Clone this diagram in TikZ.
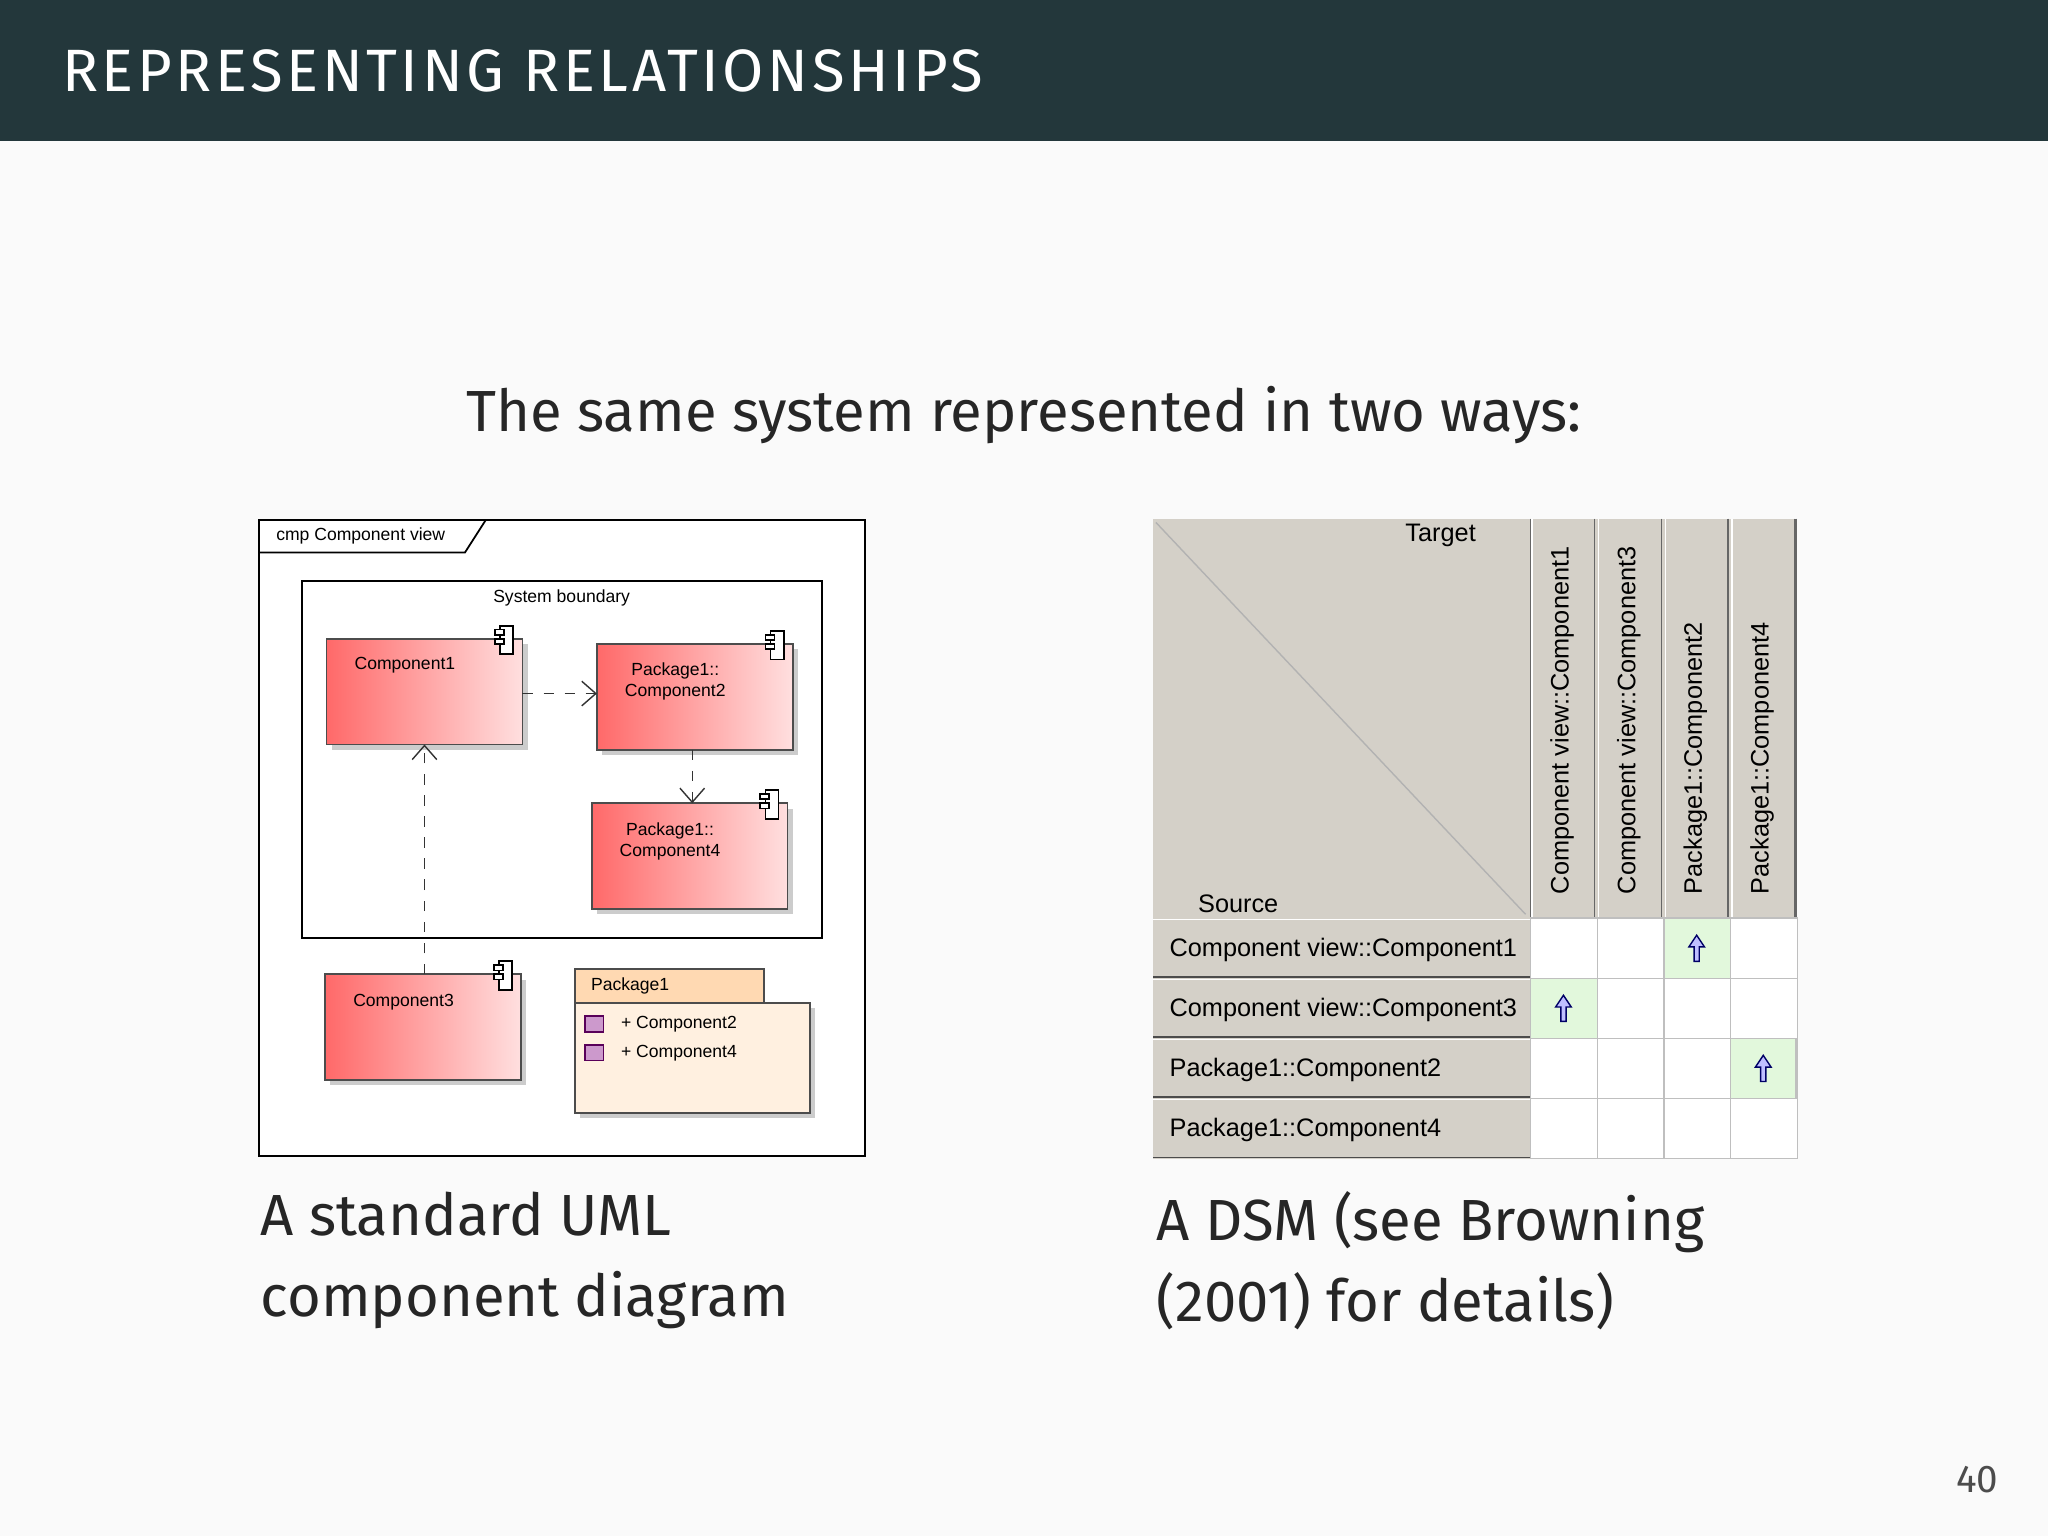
\documentclass[tikz,border=0pt]{standalone}
\usepackage{fontspec}
\setmainfont{Fira Sans}
\newfontfamily\libsans{Liberation Sans}
\usetikzlibrary{arrows.meta,shadows,calc}
\definecolor{bar}{HTML}{23373B}
\definecolor{pg}{HTML}{FAFAFA}
\definecolor{dsmgray}{HTML}{D4D0C8}
\definecolor{cellgreen}{HTML}{E2F8DC}
\tikzset{
 comp/.style={draw=black!70,line width=0.5pt,left color=red!45!pink,right color=pink!50,drop shadow={shadow xshift=1.5pt,shadow yshift=-1.5pt,opacity=0.4}},
 utxt/.style={font=\libsans\fontsize{5}{6}\selectfont,align=center},
 dtxt/.style={font=\libsans\fontsize{7.2}{8}\selectfont},
 dep/.style={dashed,draw=black!80,-{Straight Barb[length=4pt,width=7pt]}},
 cell/.style={draw=black!25,fill=white},
 gcell/.style={draw=black!25,fill=cellgreen},
 uparr/.style={draw=blue!40!black,fill=blue!25,line width=0.4pt}
}
\newcommand{\cicon}[1]{%
 \draw[fill=white,line width=0.5pt] ($(#1)+(-13,4)$) rectangle ($(#1)+(-3,-18)$);
 \draw[fill=white,line width=0.5pt] ($(#1)+(-17,-4)$) rectangle ($(#1)+(-10,-8)$);
 \draw[fill=white,line width=0.5pt] ($(#1)+(-17,-11)$) rectangle ($(#1)+(-10,-15)$);}
\newcommand{\upa}[1]{\draw[uparr] ($(#1)+(-2,10)$) -- ($(#1)+(-2,-1)$) -- ($(#1)+(-6,-1)$) -- ($(#1)+(0,-10)$) -- ($(#1)+(6,-1)$) -- ($(#1)+(2,-1)$) -- ($(#1)+(2,10)$) -- cycle;}
\begin{document}
\begin{tikzpicture}[x=0.0130612cm,y=-0.0130612cm]
\fill[pg] (0,0) rectangle (1568,1176);
\useasboundingbox (0,0) rectangle (1568,1176);
\fill[bar] (0,0) rectangle (1568,108);
\node[anchor=west,text=white,font=\fontsize{17}{20}\selectfont\addfontfeature{LetterSpace=6}] (title) at (38,54) {REPRESENTING RELATIONSHIPS};
\node[font=\fontsize{16.5}{20}\selectfont,text=black!85] (sub) at (784,318) {The same system represented in two ways:};
% UML
\draw[line width=0.6pt,fill=white] (198,398) rectangle (662,885);
\draw[line width=0.5pt] (198,423) -- (356,423) -- (372,398);
\node[utxt,anchor=west] (cmp) at (202,410) {cmp Component view};
\draw[line width=0.6pt] (231,445) rectangle (629,718);
\node[utxt] (sb) at (430,458) {System boundary};
\draw[comp] (250,489) rectangle (400,570);
\draw[comp] (457,493) rectangle (607,574);
\draw[comp] (453,615) rectangle (603,696);
\draw[comp] (249,746) rectangle (399,827);
\node[utxt] (c1) at (310,509) {Component1};
\node[utxt] (c2) at (517,522) {Package1::\\Component2};
\node[utxt] (c4) at (513,644) {Package1::\\Component4};
\node[utxt] (c3) at (309,767) {Component3};
\coordinate (i1) at (396,497); \cicon{i1}
\coordinate (i2) at (603,501); \cicon{i2}
\coordinate (i4) at (599,623); \cicon{i4}
\coordinate (i3) at (395,754); \cicon{i3}
\coordinate (c1r) at (400,531); \coordinate (c2l) at (457,531);
\coordinate (c2b) at (530,574); \coordinate (c4t) at (530,615);
\coordinate (c3t) at (325,746); \coordinate (c1bt) at (325,570);
\draw[dep] (c1r) -- (c2l);
\draw[dep] (c2b) -- (c4t);
\draw[dep] (c3t) -- (c1bt);
\draw[fill=orange!12,draw=black!70,line width=0.5pt,drop shadow={shadow xshift=1.5pt,shadow yshift=-1.5pt,opacity=0.4}] (440,768) rectangle (620,852);
\draw[fill=orange!30,draw=black!70,line width=0.5pt] (440,742) rectangle (585,768);
\node[utxt,anchor=west] (p1) at (443,755) {Package1};
\foreach \yy/\t in {784/Component2,806/Component4}{
 \draw[fill=violet!40,draw=violet!70!black,line width=0.4pt] (448,\yy-6) rectangle (462,\yy+6);
 \node[utxt,anchor=west] at (466,\yy) {+ \t};}
% DSM
\fill[dsmgray] (883,397) rectangle (1172,703);
\draw[black!30,line width=0.4pt] (885,400) -- (1168,700);
\node[dtxt] (tg) at (1103,410) {Target};
\node[dtxt] (src) at (948,692) {Source};
\draw[black!60] (1172,397) -- (1172,703);
\foreach \x/\t [count=\i] in {1172/Component view::Component1,1223/Component view::Component3,1274/Package1::Component2,1325/Package1::Component4}{
 \fill[dsmgray] (\x,397) rectangle (\x+51,703);
 \draw[black!60] (\x+49,397) -- (\x+49,703);
 \draw[white] (\x+1,397) -- (\x+1,703);
 \node[dtxt,rotate=90,anchor=west] (col\i) at (\x+24,694) {\t};}
\draw[black!60] (1375,397) -- (1375,703);
\foreach \y/\t [count=\j] in {703/Component view::Component1,749/Component view::Component3,795/Package1::Component2,841/Package1::Component4}{
 \fill[dsmgray] (883,\y) rectangle (1172,\y+46);
 \draw[black!70] (883,\y+45) -- (1172,\y+45);
 \draw[white] (883,\y+1) -- (1172,\y+1);
 \node[dtxt,anchor=west] (row\j) at (886,\y+24) {\t};
 \foreach \x in {1172,1223,1274,1325}{\draw[cell] (\x,\y) rectangle (\x+51,\y+46);}}
\draw[gcell] (1274,703) rectangle (1325,749);
\draw[gcell] (1172,749) rectangle (1223,795);
\draw[gcell] (1325,795) rectangle (1375,841);
\coordinate (a1) at (1299,726); \upa{a1}
\coordinate (a2) at (1197,772); \upa{a2}
\coordinate (a3) at (1350,818); \upa{a3}
% captions
\node[anchor=north west,align=left,font=\fontsize{16.5}{23}\selectfont,text=black!85] (capL) at (190,903) {A standard UML\\component diagram};
\node[anchor=north west,align=left,font=\fontsize{16.5}{23}\selectfont,text=black!85] (capR) at (876,903) {A DSM (see Browning\\(2001) for details)};
\node[font=\fontsize{11}{13}\selectfont,text=black!70] (pn) at (1514,1133) {40};
\end{tikzpicture}
\end{document}
